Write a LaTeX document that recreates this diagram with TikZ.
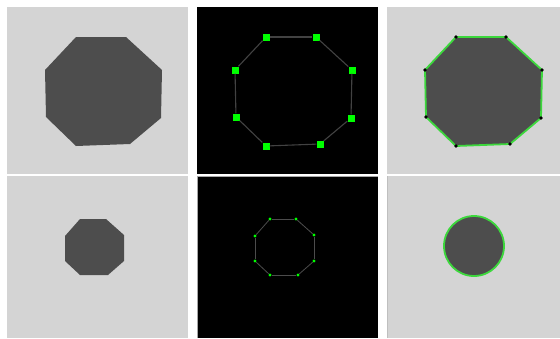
\documentclass[tikz,border=0pt]{standalone}
\usepackage{tikz}
\usetikzlibrary{calc}
\definecolor{panelgray}{HTML}{D4D4D4}
\definecolor{shapegray}{HTML}{4D4D4D}
\definecolor{markgreen}{HTML}{00FF00}
\definecolor{rimgreen}{HTML}{3CD83C}
\tikzset{
  panel/.style      = {fill=panelgray},
  darkpanel/.style  = {fill=black},
  shape fill/.style = {fill=shapegray},
  edge line/.style  = {draw=black!74, line width=1.1pt},
  thin edge/.style  = {draw=black!70, line width=0.8pt},
  rim/.style        = {draw=rimgreen, line width=1.8pt, fill=shapegray, line join=round},
  sq mark/.style    = {rectangle, fill=markgreen, inner sep=0pt, minimum size=7pt},
  small mark/.style = {circle, fill=markgreen, inner sep=0pt, minimum size=3.2pt},
  vertex dot/.style = {circle, fill=black, inner sep=0pt, minimum size=3.6pt},
}

\begin{document}
\begin{tikzpicture}[x=1pt,y=-1pt]
  \useasboundingbox (0,0) rectangle (560,338);
  \fill[white] (0,0) rectangle (560,338);

  % panels
  \fill[panel]     (7,7)     rectangle (188,174);
  \fill[darkpanel] (197,7)   rectangle (378,174);
  \fill[panel]     (387,7)   rectangle (560,174);
  \fill[panel]     (7,176)   rectangle (188,338);
  \fill[darkpanel] (197,176) rectangle (378,338);
  \fill[panel]     (387,176) rectangle (560,338);
  \draw[black!35, line width=1pt] (197.5,338) -- (197.5,176.5) -- (378,176.5);
  \draw[black!25, line width=0.8pt] (387.4,338) -- (387.4,176);

  % corners of the large octagon
  \foreach \x/\y [count=\i] in {76/37,126/37,162/70,161/118,130/144,76/146,46/117,45/70}
    \coordinate (big\i) at (\x,\y);
  % corners of the small octagon
  \foreach \x/\y [count=\i] in {80/219,106/219,124/235,124/261,108/275,80/275,65/261,65/236}
    \coordinate (small\i) at (\x,\y);

  % top row
  \fill[shape fill] (big1) \foreach \i in {2,...,8}{-- (big\i)} -- cycle;

  \foreach \i in {1,...,8}
    \node[sq mark] (mark\i) at ($(big\i)+(190,0)$) {};
  \foreach \i [remember=\i as \j (initially 8)] in {1,...,8}
    \draw[edge line] (mark\j) -- (mark\i);

  \foreach \i in {1,...,8}
    \coordinate (rim\i) at ($(big\i)+(380,0)$);
  \draw[rim] (rim1) \foreach \i in {2,...,8}{-- (rim\i)} -- cycle;
  \foreach \i in {1,...,8}
    \node[vertex dot] (dot\i) at (rim\i) {};

  % bottom row
  \fill[shape fill] (small1) \foreach \i in {2,...,8}{-- (small\i)} -- cycle;

  \foreach \i in {1,...,8}
    \node[small mark] (pt\i) at ($(small\i)+(190,0)$) {};
  \foreach \i [remember=\i as \j (initially 8)] in {1,...,8}
    \draw[thin edge] (pt\j) -- (pt\i);

  \coordinate (blob) at (474,246);
  \draw[rim] (blob) circle (30pt);
\end{tikzpicture}
\end{document}
